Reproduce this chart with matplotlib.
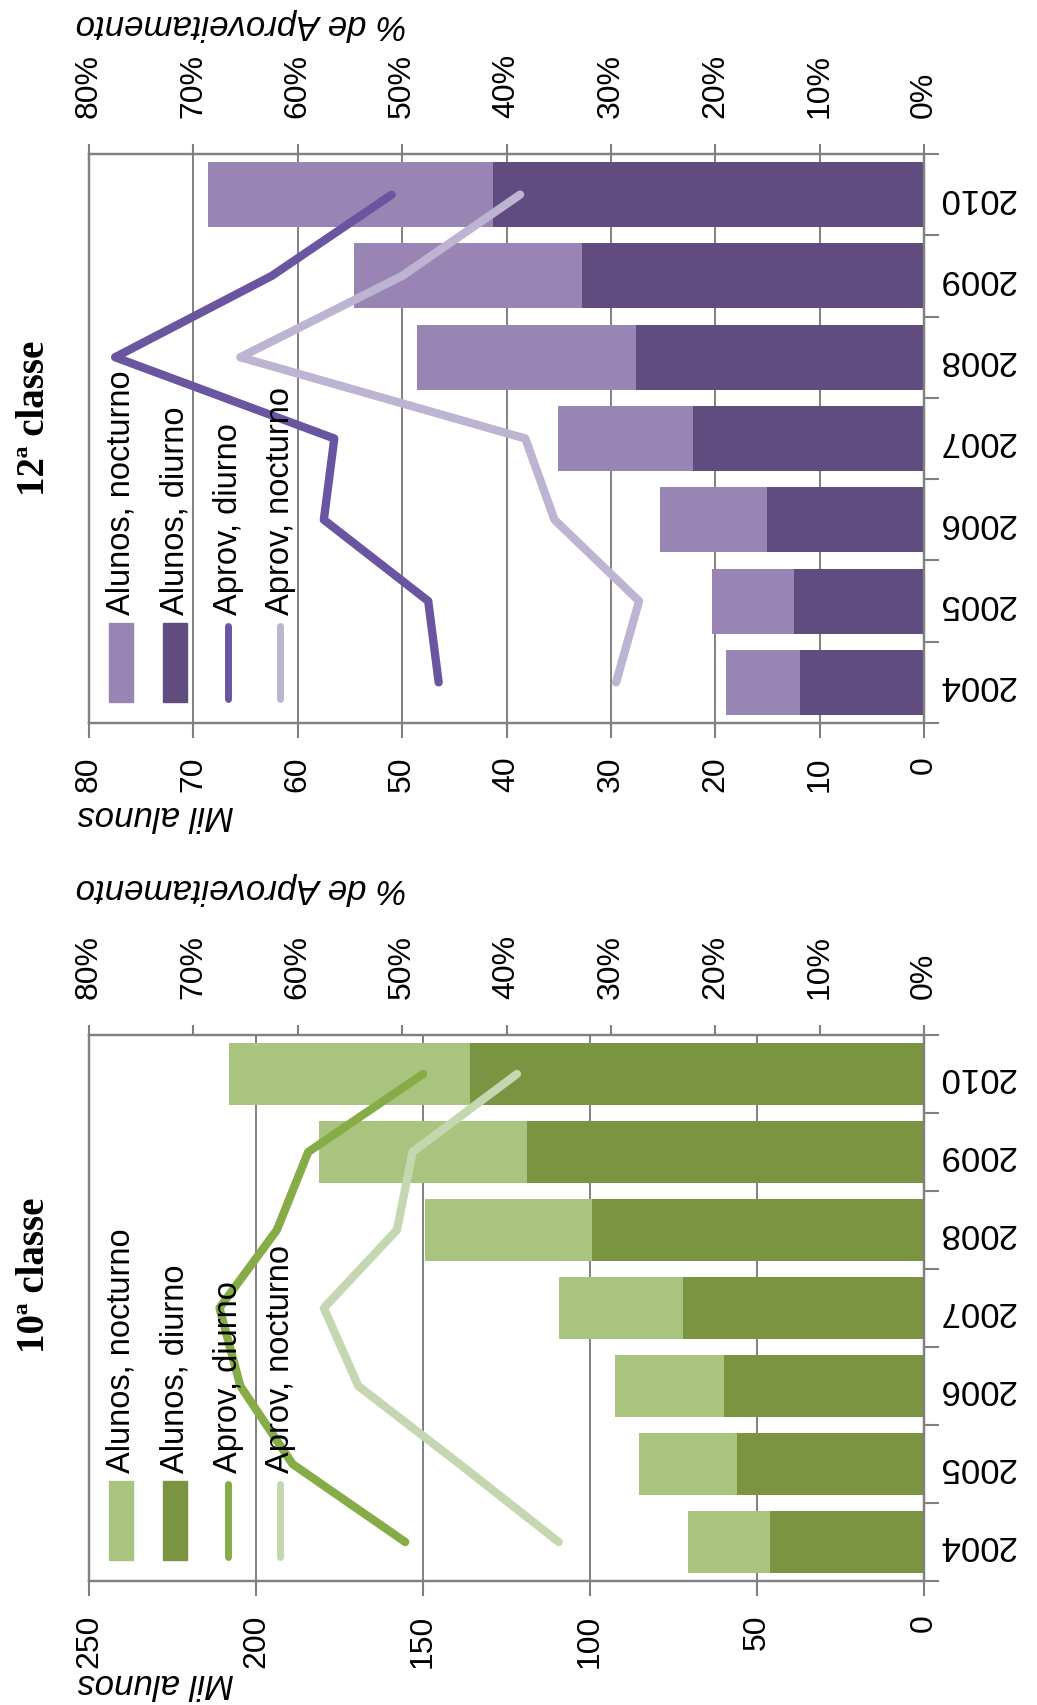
import matplotlib
matplotlib.use('Agg')

import matplotlib.pyplot as plt
from matplotlib.lines import Line2D
from matplotlib.patches import Rectangle

plt.rcParams['font.family'] = ['Liberation Sans', 'DejaVu Sans']

years = ['2004', '2005', '2006', '2007', '2008', '2009', '2010']

# 12a classe (mil alunos, % aproveitamento)
c12_diurno = [11.9, 12.5, 15.0, 22.1, 27.6, 32.8, 41.3]
c12_nocturno = [7.1, 7.8, 10.3, 13.0, 21.0, 21.8, 27.3]
c12_aprov_diurno = [46.5, 47.5, 57.5, 56.5, 77.5, 62.5, 51.0]
c12_aprov_nocturno = [29.5, 27.3, 35.4, 38.2, 65.5, 50.0, 38.7]

# 10a classe
c10_diurno = [46.1, 56.0, 59.9, 72.2, 99.5, 119.0, 136.0]
c10_nocturno = [24.6, 29.3, 32.6, 37.1, 50.0, 62.0, 72.0]
c10_aprov_diurno = [49.7, 60.5, 65.5, 67.5, 62.0, 59.0, 48.0]
c10_aprov_nocturno = [35.0, 44.5, 54.2, 57.5, 50.5, 49.0, 39.0]

legend_labels = ['Alunos, nocturno', 'Alunos, diurno', 'Aprov, diurno', 'Aprov, nocturno']

PURPLE = {'noite': '#9985b3', 'dia': '#614c7f', 'l_dia': '#6a55a0', 'l_noite': '#bdb4d2'}
GREEN = {'noite': '#a8c47e', 'dia': '#7a9441', 'l_dia': '#86ac48', 'l_noite': '#c5d7b0'}
GRAY = '#808080'

W, H = 1037, 1705


def fx(px):
    return px / W


def fy(py):
    return 1 - py / H


def draw_panel(fig, top, bottom, title, title_y, diurno, nocturno, aprov_d, aprov_n,
               vmax, vstep, colors, pct_y, mil_y):
    ax = fig.add_axes([fx(89), fy(bottom), (924 - 89) / W, (bottom - top) / H])
    idx = list(range(len(years)))
    ax.barh(idx, diurno, height=0.8, color=colors['dia'], zorder=2)
    ax.barh(idx, nocturno, left=diurno, height=0.8, color=colors['noite'], zorder=2)
    ax.set_xlim(vmax, 0)
    ax.set_ylim(-0.5, len(years) - 0.5)
    ax.set_xticks(list(range(0, vmax + 1, vstep)))
    ax.tick_params(axis='x', direction='out', length=11, width=1.5, color=GRAY,
                   pad=13, labelsize=23, labelrotation=90)
    ax.grid(axis='x', color=GRAY, lw=1.4)
    ax.set_axisbelow(True)

    ax2 = ax.twiny()
    ax2.set_xlim(80, 0)
    ax2.set_xticks(list(range(0, 81, 10)))
    ax2.set_xticklabels([f'{v}%' for v in range(0, 81, 10)])
    ax2.tick_params(axis='x', direction='out', length=7, width=1.5, color=GRAY,
                    pad=19, labelsize=23, labelrotation=90)
    ax2.plot(aprov_n, idx, color=colors['l_noite'], lw=6, solid_capstyle='round', zorder=3)
    ax2.plot(aprov_d, idx, color=colors['l_dia'], lw=6, solid_capstyle='round', zorder=3)

    ax.yaxis.tick_right()
    ax.set_yticks(idx)
    ax.set_yticklabels(years, rotation=180, fontsize=25)
    ax.set_yticks([i - 0.5 for i in range(len(years) + 1)], minor=True)
    ax.tick_params(axis='y', which='major', length=0, pad=10)
    ax.tick_params(axis='y', which='minor', direction='out', length=11, width=1.5, color=GRAY)

    for a in (ax, ax2):
        for s in a.spines.values():
            s.set_color(GRAY)
            s.set_linewidth(1.6)

    fig.text(fx(34), fy(title_y), title, rotation=90, ha='center', va='center',
             fontsize=28, fontweight='bold', family=['Liberation Serif', 'DejaVu Serif'])
    fig.text(fx(241), fy(pct_y), '% de Aproveitamento', rotation=180, style='italic',
             fontsize=25, ha='center', va='center')
    fig.text(fx(156), fy(mil_y), 'Mil alunos', rotation=180, style='italic',
             fontsize=25, ha='center', va='center')

    # legend, drawn by hand because it is rotated with the chart
    handles = [('patch', colors['noite']), ('patch', colors['dia']),
               ('line', colors['l_dia']), ('line', colors['l_noite'])]
    for xc, label, (kind, col) in zip([121, 175, 228, 280], legend_labels, handles):
        if kind == 'patch':
            fig.add_artist(Rectangle((fx(xc - 12), fy(bottom - 21)), 24 / W, 79 / H,
                                     transform=fig.transFigure, color=col))
        else:
            fig.add_artist(Line2D([fx(xc), fx(xc)], [fy(bottom - 24), fy(bottom - 97)],
                                  transform=fig.transFigure, color=col, lw=5,
                                  solid_capstyle='round'))
        fig.text(fx(xc), fy(bottom - 108), label, rotation=90, ha='center', va='bottom',
                 fontsize=23.5)


fig = plt.figure(figsize=(W / 100, H / 100), dpi=100)

draw_panel(fig, 154, 723, '12ª classe', 418, c12_diurno, c12_nocturno,
           c12_aprov_diurno, c12_aprov_nocturno, 80, 10, PURPLE, 24, 815)
draw_panel(fig, 1035, 1581, '10ª classe', 1275, c10_diurno, c10_nocturno,
           c10_aprov_diurno, c10_aprov_nocturno, 250, 50, GREEN, 889, 1683)

fig.savefig('out.png', dpi=100)
